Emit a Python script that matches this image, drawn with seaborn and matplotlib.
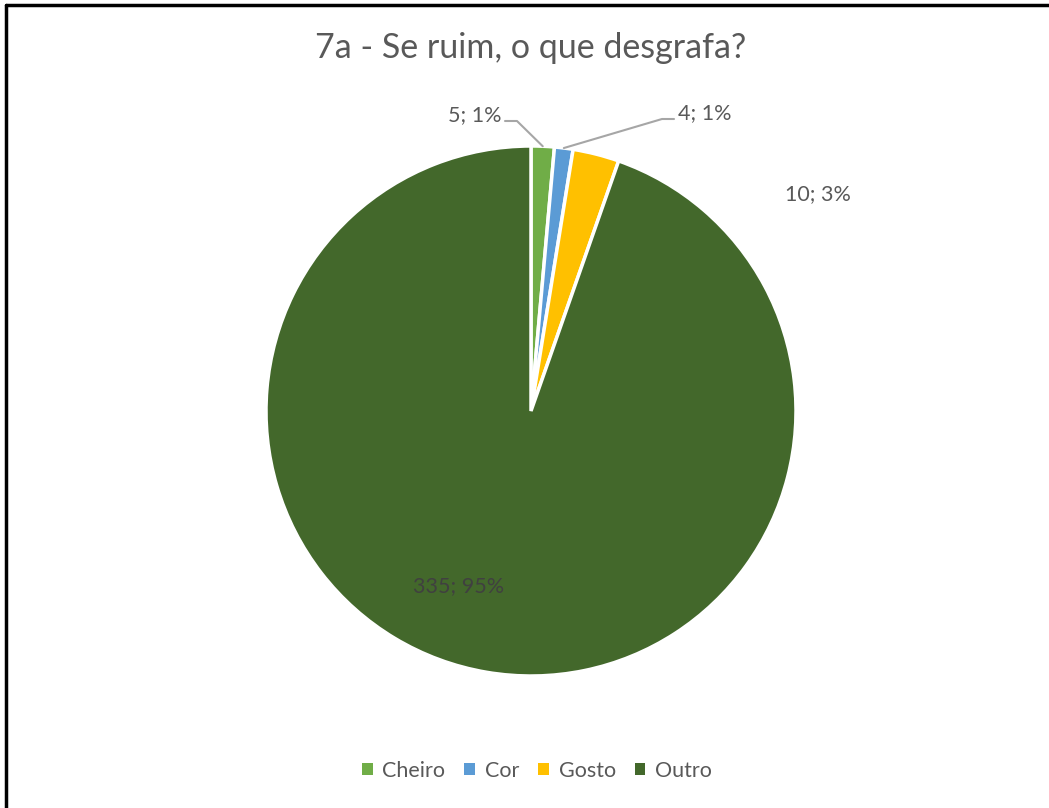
import numpy as np
import seaborn as sns
from matplotlib import pyplot as plt
from matplotlib.patches import Patch
from matplotlib.lines import Line2D

categories = ['Cheiro', 'Cor', 'Gosto', 'Outro']
counts = [5, 4, 10, 335]
percent_labels = ['1%', '1%', '3%', '95%']
colors = ['#70AD47', '#5B9BD5', '#FFC000', '#43682B']

sns.set_theme(style='white')
plt.rcParams['font.family'] = ['Lato', 'DejaVu Sans']

W, H = 1049, 808
fig = plt.figure(figsize=(W / 100, H / 100), dpi=100)

# pie axes placed to match the reference (center 531,411 px, radius 265 px)
cx, cy, r = 531, 411, 265
ax = fig.add_axes([(cx - r) / W, 1 - (cy + r) / H, 2 * r / W, 2 * r / H])
wedges, _ = ax.pie(counts, colors=colors, startangle=90, counterclock=False,
                   radius=1, wedgeprops=dict(edgecolor='white', linewidth=2.5))
ax.set_xlim(-1, 1)
ax.set_ylim(-1, 1)
ax.set_aspect('equal')
ax.axis('off')

text_col = '#595959'
fs = 15.5
labels = [f'{c}; {p}' for c, p in zip(counts, percent_labels)]


def mid_point(w, rr):
    a = np.deg2rad((w.theta1 + w.theta2) / 2)
    return rr * np.cos(a), rr * np.sin(a)


# Cheiro: label left-above with leader
x0, y0 = mid_point(wedges[0], 1.0)
ax.add_line(Line2D([x0, (517 - cx) / r, (505 - cx) / r],
                   [y0, (cy - 121) / r, (cy - 121) / r],
                   color='#A6A6A6', lw=1.5, clip_on=False))
ax.text((501 - cx) / r, (cy - 115) / r, labels[0], ha='right', va='center',
        fontsize=fs, color=text_col)

# Cor: label right-above with leader
x0, y0 = mid_point(wedges[1], 1.0)
ax.add_line(Line2D([x0, (662 - cx) / r, (674 - cx) / r],
                   [y0, (cy - 119) / r, (cy - 119) / r],
                   color='#A6A6A6', lw=1.5, clip_on=False))
ax.text((678 - cx) / r, (cy - 113) / r, labels[1], ha='left', va='center',
        fontsize=fs, color=text_col)

# Gosto: free label
ax.text((818 - cx) / r, (cy - 194) / r, labels[2], ha='center', va='center',
        fontsize=fs, color=text_col)

# Outro: inside
ax.text((459 - cx) / r, (cy - 586) / r, labels[3], ha='center', va='center',
        fontsize=fs, color='#404040')

fig.text(531 / W, 1 - 48 / H, '7a - Se ruim, o que desgrafa?', ha='center',
         va='center', fontsize=24.5, color=text_col)

handles = [Patch(facecolor=c, edgecolor='none') for c in colors]
fig.legend(handles, categories, loc='center', bbox_to_anchor=(537 / W, 1 - 771 / H),
           ncol=4, frameon=False, fontsize=fs, labelcolor=text_col,
           handlelength=0.5, handleheight=0.5, handletextpad=0.45, columnspacing=0.88)

# frame on left and top only, as in the cropped reference
fig.add_artist(Line2D([6 / W, 6 / W], [0, 1 - 5 / H], transform=fig.transFigure,
                      color='black', lw=2.5))
fig.add_artist(Line2D([6 / W, 1], [1 - 5 / H, 1 - 5 / H], transform=fig.transFigure,
                      color='black', lw=2.5))

fig.savefig('out.png', dpi=100, facecolor='white')
